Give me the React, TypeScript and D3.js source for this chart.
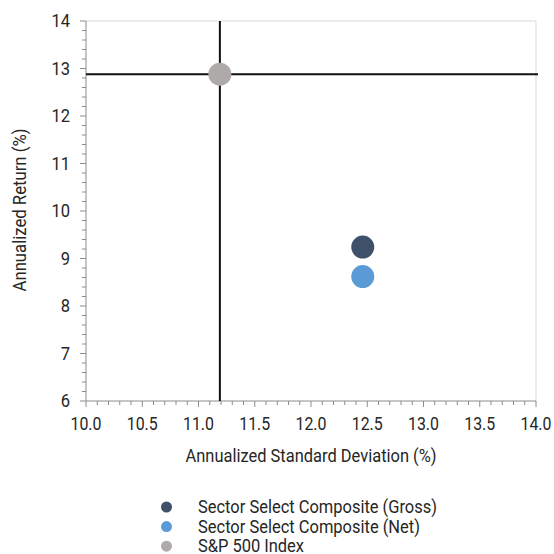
import React from 'react';
import * as d3 from 'd3';

// series: [std dev, return]
const seriesNames = ['Sector Select Composite (Gross)', 'Sector Select Composite (Net)', 'S&P 500 Index'];
const stdDevs = [12.46, 12.46, 11.19];
const returns = [9.24, 8.62, 12.88];
const colors = ['#3f506b', '#5b9bd5', '#aeaaaa'];

const xTicks = [10, 10.5, 11, 11.5, 12, 12.5, 13, 13.5, 14];
const yTicks = [6, 7, 8, 9, 10, 11, 12, 13, 14];

// measured text widths in the reference (its font is narrower than Roboto)
const legendWidths = [239, 222, 106];

const W = 554;
const H = 554;
const margin = { left: 86, right: 18, top: 21, bottom: 153 };
const font = 'Roboto, sans-serif';
const ink = '#262626';

export default function App() {
  const x = d3.scaleLinear().domain([10, 14]).range([margin.left, W - margin.right]);
  const y = d3.scaleLinear().domain([6, 14]).range([H - margin.bottom, margin.top]);

  const xMinor = d3.range(0, 41).map(i => 10 + i * 0.1);
  const yMinor = d3.range(0, 41).map(i => 6 + i * 0.2);

  // benchmark crosshair from S&P 500 point
  const bx = x(stdDevs[2]);
  const by = y(returns[2]);

  const [x0, x1] = x.range();
  const [y0, y1] = y.range();

  return (
    <svg width={W} height={H} style={{ position: 'absolute', left: 0, top: 0, fontFamily: font }}>
      <rect width={W} height={H} fill="#fff" />
      {/* plot border */}
      <line x1={x0} x2={x1} y1={y1} y2={y1} stroke="#d9d9d9" strokeWidth={1} />
      <line x1={x1} x2={x1} y1={y1} y2={y0} stroke="#d9d9d9" strokeWidth={1} />

      {/* x axis */}
      <line x1={x0} x2={x1} y1={y0} y2={y0} stroke="#8c8c8c" strokeWidth={1} />
      {xMinor.map((v, i) => (
        <line key={'xm' + i} x1={x(v)} x2={x(v)} y1={y0} y2={y0 + (i % 5 === 0 ? 6 : 4)} stroke="#8c8c8c" />
      ))}
      {xTicks.map(v => (
        <text key={'xt' + v} x={x(v)} y={y0 + 29} textAnchor="middle" fontSize={18} fill={ink}
          textLength={31} lengthAdjust="spacingAndGlyphs">
          {d3.format('.1f')(v)}
        </text>
      ))}
      <text x={(x0 + x1) / 2} y={462} textAnchor="middle" fontSize={18} fill={ink}
        textLength={251} lengthAdjust="spacingAndGlyphs">
        Annualized Standard Deviation (%)
      </text>

      {/* y axis */}
      <line x1={x0} x2={x0} y1={y0} y2={y1} stroke="#8c8c8c" strokeWidth={1} />
      {yMinor.map((v, i) => (
        <line key={'ym' + i} x1={x0} x2={x0 - (i % 5 === 0 ? 6 : 4)} y1={y(v)} y2={y(v)} stroke="#8c8c8c" />
      ))}
      {yTicks.map(v => (
        <text key={'yt' + v} x={x0 - 16} y={y(v)} dy="0.36em" textAnchor="end" fontSize={18} fill={ink}
          textLength={String(v).length * 9.3} lengthAdjust="spacingAndGlyphs">
          {v}
        </text>
      ))}
      <text
        transform={`translate(26,210) rotate(-90)`}
        textAnchor="middle"
        fontSize={18}
        fill={ink}
        textLength={163}
        lengthAdjust="spacingAndGlyphs"
      >
        Annualized Return (%)
      </text>

      {/* crosshair */}
      <line x1={bx} x2={bx} y1={y1} y2={y0} stroke="#111" strokeWidth={2} />
      <line x1={x0} x2={x1 + 2} y1={by} y2={by} stroke="#111" strokeWidth={2} />

      {/* points */}
      {seriesNames.map((s, i) => (
        <circle key={s} cx={x(stdDevs[i])} cy={y(returns[i])} r={11.5} fill={colors[i]} />
      ))}

      {/* legend */}
      {seriesNames.map((s, i) => (
        <g key={'lg' + s} transform={`translate(166.5,${507 + i * 19.6})`}>
          <circle r={5.5} fill={colors[i]} />
          <text x={31.5} dy="0.35em" fontSize={17.5} fill={ink}
            textLength={legendWidths[i]} lengthAdjust="spacingAndGlyphs">{s}</text>
        </g>
      ))}
    </svg>
  );
}
